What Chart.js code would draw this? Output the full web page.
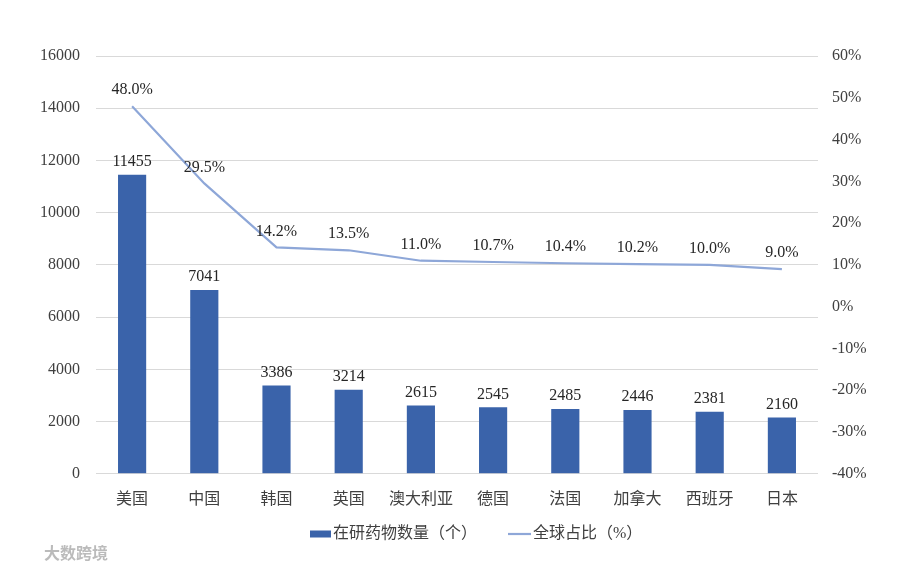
<!DOCTYPE html>
<html><head><meta charset="utf-8">
<script src="https://cdn.jsdelivr.net/npm/chart.js@4/dist/chart.umd.min.js"></script>
<style>html,body{margin:0;padding:0;background:#fff}#wrap{width:900px;height:573px;position:relative}</style>
</head><body><div id="wrap"><canvas id="c" width="900" height="573"></canvas></div>
<script>
const categories = ['美国','中国','韩国','英国','澳大利亚','德国','法国','加拿大','西班牙','日本'];
const drugCounts = [11455,7041,3386,3214,2615,2545,2485,2446,2381,2160];
const globalShare = [48.0,29.5,14.2,13.5,11.0,10.7,10.4,10.2,10.0,9.0];
const barLabel = '在研药物数量（个）';
const lineLabel = '全球占比（%）';

const FONT = '"Liberation Serif","Noto Sans CJK SC",serif';
const BAR_COLOR = '#3A63AA';
const LINE_COLOR = '#8EA7D8';

const labelPlugin = {
  id: 'labels',
  afterDatasetsDraw(chart) {
    const ctx = chart.ctx;
    ctx.save();
    ctx.font = '16px ' + FONT;
    ctx.fillStyle = '#262626';
    ctx.textAlign = 'center';
    ctx.textBaseline = 'bottom';
    chart.getDatasetMeta(0).data.forEach((el, i) => {
      ctx.fillText(String(drugCounts[i]), el.x, el.y - 5);
    });
    chart.getDatasetMeta(1).data.forEach((el, i) => {
      ctx.fillText(globalShare[i].toFixed(1) + '%', el.x, el.y - 8);
    });

    // legend
    ctx.font = '16px ' + FONT;
    ctx.textAlign = 'left';
    ctx.textBaseline = 'middle';
    const y = 534;
    ctx.fillStyle = BAR_COLOR;
    ctx.fillRect(310, y - 3.5, 21, 7);
    ctx.fillStyle = '#404040';
    ctx.fillText(barLabel, 333, y);
    ctx.strokeStyle = LINE_COLOR;
    ctx.lineWidth = 2.2;
    ctx.beginPath(); ctx.moveTo(508, y); ctx.lineTo(531, y); ctx.stroke();
    ctx.fillText(lineLabel, 533, y);

    ctx.font = 'bold 16px "Noto Sans CJK SC",sans-serif';
    ctx.fillStyle = 'rgba(170,170,170,0.8)';
    ctx.fillText('大数跨境', 44, 553);
    ctx.restore();
  }
};

new Chart(document.getElementById('c'), {
  data: {
    labels: categories,
    datasets: [
      { type: 'bar', label: barLabel, data: drugCounts, yAxisID: 'y', backgroundColor: BAR_COLOR,
        categoryPercentage: 1, barPercentage: 0.39, order: 2 },
      { type: 'line', label: lineLabel, data: globalShare, yAxisID: 'y1', borderColor: LINE_COLOR,
        backgroundColor: LINE_COLOR, borderWidth: 2.2, pointRadius: 0, tension: 0, order: 1 }
    ]
  },
  options: {
    responsive: false,
    animation: false,
    layout: { padding: { top: 56, left: 0, right: 0, bottom: 56 } },
    plugins: {
      legend: { display: false },
      tooltip: { enabled: false }
    },
    scales: {
      x: {
        grid: { display: false },
        border: { display: false },
        ticks: { font: { size: 16, family: FONT }, color: '#404040', padding: 8 }
      },
      y: {
        position: 'left', min: 0, max: 16000,
        ticks: { stepSize: 2000, font: { size: 16, family: FONT }, color: '#404040', padding: 16,
          callback: v => String(v) },
        grid: { color: '#D9D9D9', drawTicks: false },
        border: { display: false },
        afterFit(s) { s.width = 96; }
      },
      y1: {
        position: 'right', min: -40, max: 60,
        ticks: { stepSize: 10, font: { size: 16, family: FONT }, color: '#404040', padding: 14,
          callback: v => v + '%' },
        grid: { display: false, drawTicks: false },
        border: { display: false },
        afterFit(s) { s.width = 82; }
      }
    }
  },
  plugins: [labelPlugin]
});
</script></body></html>
